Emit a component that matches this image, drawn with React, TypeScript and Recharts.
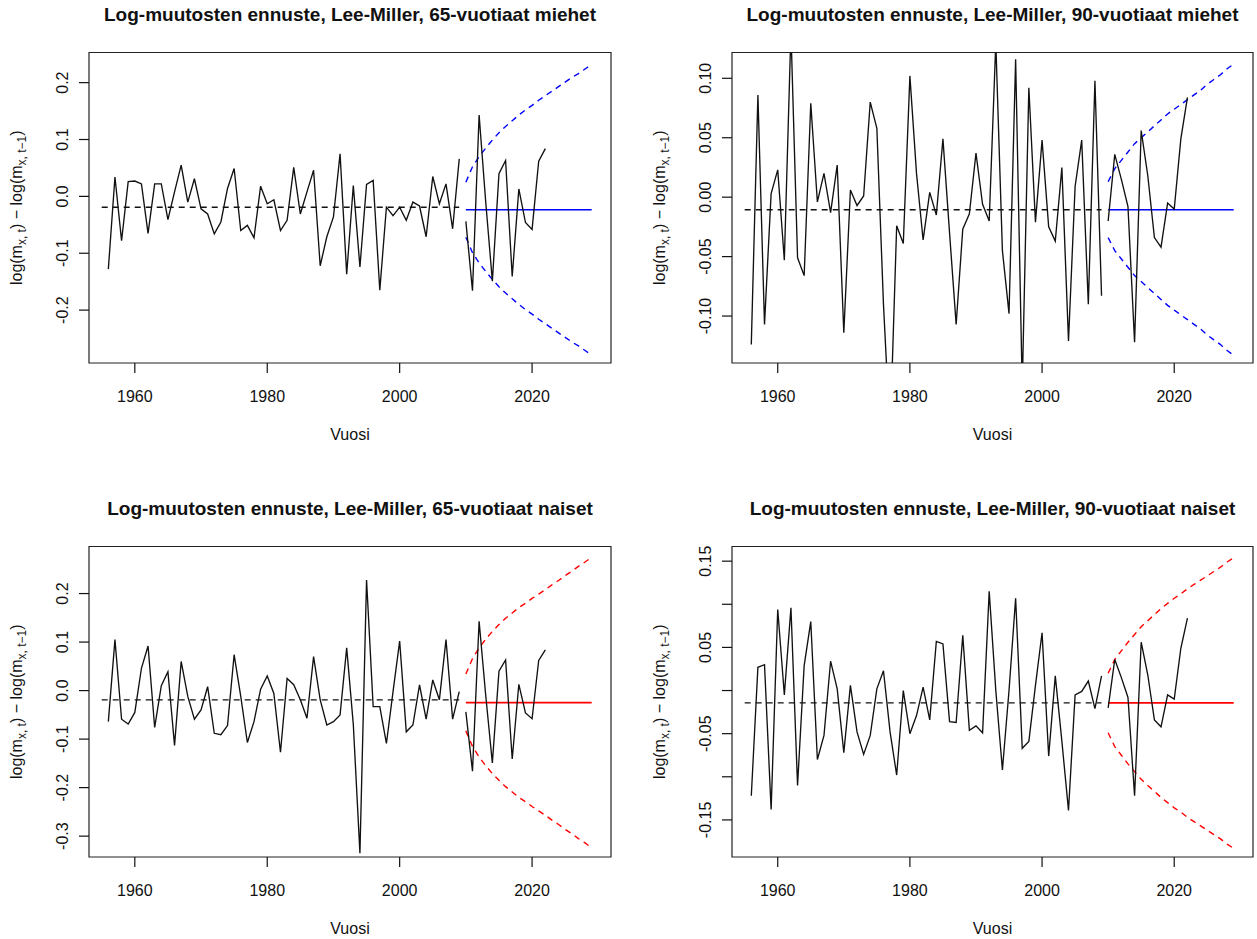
import { LineChart, Line, XAxis, YAxis, ReferenceArea } from 'recharts';

const FONT = '"Liberation Sans", Arial, Helvetica, sans-serif';

const titles = [
  'Log-muutosten ennuste, Lee-Miller, 65-vuotiaat miehet',
  'Log-muutosten ennuste, Lee-Miller, 90-vuotiaat miehet',
  'Log-muutosten ennuste, Lee-Miller, 65-vuotiaat naiset',
  'Log-muutosten ennuste, Lee-Miller, 90-vuotiaat naiset',
];
const xLabel = 'Vuosi';
const xTicks = [1960, 1980, 2000, 2020];

// years covered by each series
const meanStart = 1955;
const histStart = 1956;
const histEnd = 2009;
const recentStart = 2010;
const fcEnd = 2029;

// observed log changes 1956-2009
const hist65m = [
  -0.128, 0.034, -0.078, 0.026, 0.027, 0.022, -0.065, 0.022, 0.022, -0.041,
  0.008, 0.055, -0.010, 0.031, -0.022, -0.031, -0.066, -0.045, 0.014, 0.049,
  -0.060, -0.051, -0.073, 0.018, -0.013, -0.006, -0.060, -0.042, 0.051, -0.031,
  0.008, 0.046, -0.122, -0.071, -0.036, 0.075, -0.137, 0.019, -0.124, 0.021,
  0.028, -0.165, -0.019, -0.034, -0.019, -0.042, -0.010, -0.017, -0.071, 0.035,
  -0.013, 0.022, -0.057, 0.066,
];
const hist90m = [
  -0.124, 0.086, -0.107, 0.003, 0.023, -0.053, 0.14, -0.051, -0.066, 0.079,
  -0.004, 0.020, -0.013, 0.027, -0.114, 0.006, -0.007, 0.001, 0.080, 0.058,
  -0.090, -0.200, -0.024, -0.039, 0.102, 0.020, -0.036, 0.004, -0.015, 0.049,
  -0.030, -0.107, -0.027, -0.014, 0.037, -0.006, -0.020, 0.130, -0.045, -0.098,
  0.116, -0.160, 0.092, -0.021, 0.048, -0.025, -0.037, 0.025, -0.121, 0.009,
  0.048, -0.090, 0.098, -0.083,
];
const hist65f = [
  -0.064, 0.105, -0.059, -0.069, -0.045, 0.046, 0.092, -0.076, 0.010, 0.039,
  -0.113, 0.060, -0.012, -0.059, -0.040, 0.008, -0.088, -0.091, -0.072, 0.074,
  -0.012, -0.107, -0.064, 0.003, 0.030, -0.006, -0.127, 0.025, 0.012, -0.019,
  -0.057, 0.070, -0.019, -0.071, -0.064, -0.050, 0.088, -0.070, -0.335, 0.228,
  -0.033, -0.033, -0.109, -0.002, 0.102, -0.085, -0.071, 0.012, -0.059, 0.022,
  -0.019, 0.105, -0.059, -0.002,
];
const hist90f = [
  -0.122, 0.027, 0.030, -0.138, 0.094, -0.005, 0.096, -0.110, 0.029, 0.080,
  -0.080, -0.052, 0.034, 0.002, -0.072, 0.006, -0.048, -0.074, -0.052, 0.002,
  0.023, -0.048, -0.098, 0.000, -0.050, -0.029, 0.004, -0.034, 0.057, 0.054,
  -0.036, -0.037, 0.064, -0.046, -0.041, -0.049, 0.115, 0.000, -0.092, 0.000,
  0.107, -0.067, -0.059, 0.006, 0.067, -0.076, 0.017, -0.059, -0.139, -0.005,
  -0.001, 0.011, -0.021, 0.017,
];

// observed 2010-2022 (same series drawn in both panels of an age)
const recent65 = [-0.044, -0.166, 0.143, -0.010, -0.149, 0.040, 0.063, -0.141, 0.013, -0.046, -0.058, 0.062, 0.084];
const recent90 = [-0.020, 0.036, 0.015, -0.008, -0.122, 0.056, 0.018, -0.034, -0.042, -0.005, -0.010, 0.049, 0.084];

// means
const mean65m = -0.019;
const fc65m = -0.0235;
const mean90m = -0.0106;
const fc90m = -0.0106;
const mean65f = -0.0192;
const fc65f = -0.0247;
const mean90f = -0.0143;
const fc90f = -0.0143;

// prediction bounds 2010-2029
const upper65m = [0.025, 0.052, 0.070, 0.085, 0.099, 0.112, 0.123, 0.133, 0.143, 0.152, 0.160, 0.169, 0.177, 0.185, 0.193, 0.201, 0.209, 0.216, 0.224, 0.232];
const lower65m = [-0.072, -0.099, -0.117, -0.132, -0.146, -0.159, -0.170, -0.180, -0.190, -0.199, -0.207, -0.216, -0.224, -0.232, -0.240, -0.248, -0.256, -0.263, -0.271, -0.279];
const upper90m = [0.013, 0.024, 0.031, 0.038, 0.045, 0.050, 0.055, 0.060, 0.065, 0.070, 0.074, 0.078, 0.082, 0.086, 0.090, 0.095, 0.099, 0.103, 0.108, 0.112];
const lower90m = [-0.034, -0.045, -0.052, -0.059, -0.066, -0.071, -0.076, -0.081, -0.086, -0.091, -0.095, -0.099, -0.103, -0.107, -0.111, -0.116, -0.120, -0.124, -0.129, -0.133];
const upper65f = [0.034, 0.066, 0.088, 0.106, 0.122, 0.136, 0.149, 0.160, 0.171, 0.180, 0.190, 0.199, 0.208, 0.218, 0.227, 0.237, 0.246, 0.256, 0.265, 0.275];
const lower65f = [-0.083, -0.115, -0.137, -0.155, -0.171, -0.185, -0.198, -0.209, -0.220, -0.229, -0.239, -0.248, -0.257, -0.267, -0.276, -0.286, -0.295, -0.305, -0.314, -0.324];
const upper90f = [0.020, 0.036, 0.046, 0.056, 0.065, 0.074, 0.081, 0.088, 0.095, 0.101, 0.107, 0.112, 0.118, 0.123, 0.128, 0.133, 0.138, 0.143, 0.149, 0.154];
const lower90f = [-0.049, -0.065, -0.075, -0.085, -0.094, -0.103, -0.110, -0.117, -0.124, -0.130, -0.136, -0.141, -0.147, -0.152, -0.157, -0.162, -0.167, -0.172, -0.178, -0.183];

// y axes
const yTicks65m = [-0.2, -0.1, 0, 0.1, 0.2];
const yLabels65m = ['-0.2', '-0.1', '0.0', '0.1', '0.2'];
const yTicks90m = [-0.1, -0.05, 0, 0.05, 0.1];
const yLabels90m = ['-0.10', '-0.05', '0.00', '0.05', '0.10'];
const yTicks65f = [-0.3, -0.2, -0.1, 0, 0.1, 0.2];
const yLabels65f = ['-0.3', '-0.2', '-0.1', '0.0', '0.1', '0.2'];
const yTicks90f = [-0.15, -0.1, -0.05, 0, 0.05, 0.1, 0.15];
const yLabels90f = ['-0.15', '', '-0.05', '', '0.05', '', '0.15'];

const X_DOMAIN = [1953.08, 2031.92];
const PLOT_LEFT = 89;
const PLOT_TOP = 52.5;
const PLOT_H = 310.5;
const CHART_H = 470;

function buildRows(hist: number[], mean: number, recent: number[], fc: number, upper: number[], lower: number[]) {
  const rows: any[] = [];
  for (let y = meanStart; y <= fcEnd; y++) {
    const r: any = { year: y };
    if (y <= histEnd) r.mean = mean;
    if (y >= histStart && y <= histEnd) r.hist = hist[y - histStart];
    if (y >= recentStart && y - recentStart < recent.length) r.recent = recent[y - recentStart];
    if (y >= recentStart) {
      r.fc = fc;
      r.hi = upper[y - recentStart];
      r.lo = lower[y - recentStart];
    }
    rows.push(r);
  }
  return rows;
}

type PanelProps = {
  left: number;
  top: number;
  width: number;
  plotW: number;
  title: string;
  color: string;
  rows: any[];
  yDomain: number[];
  yTicks: number[];
  yLabels: string[];
};

function Panel(p: PanelProps) {
  const ink = '#111';
  const cx = PLOT_LEFT + p.plotW / 2;
  const cy = PLOT_TOP + PLOT_H / 2;
  return (
    <div style={{ position: 'absolute', left: p.left, top: p.top, width: p.width, height: CHART_H }}>
      <LineChart
        width={p.width}
        height={CHART_H}
        data={p.rows}
        margin={{ top: PLOT_TOP, right: p.width - PLOT_LEFT - p.plotW, bottom: 0, left: 0 }}
      >
        <XAxis
          type="number"
          dataKey="year"
          domain={X_DOMAIN}
          ticks={xTicks}
          interval={0}
          allowDataOverflow
          axisLine={false}
          tickSize={10}
          tickMargin={0}
          tickLine={{ stroke: ink, strokeWidth: 1.2 }}
          height={CHART_H - PLOT_TOP - PLOT_H}
          tick={(t: any) => (
            <text x={t.x} y={t.y + 28.7} textAnchor="middle" fontFamily={FONT} fontSize={16} fill={ink}>
              {t.payload.value}
            </text>
          )}
        />
        <YAxis
          type="number"
          domain={p.yDomain}
          ticks={p.yTicks}
          interval={0}
          allowDataOverflow
          axisLine={false}
          tickSize={10}
          tickMargin={0}
          width={PLOT_LEFT}
          tickLine={{ stroke: ink, strokeWidth: 1.2 }}
          tick={(t: any) => (
            <text
              x={t.x - 11}
              y={t.y}
              transform={`rotate(-90 ${t.x - 11} ${t.y})`}
              textAnchor="middle"
              fontFamily={FONT}
              fontSize={16}
              fill={ink}
            >
              {p.yLabels[p.yTicks.indexOf(t.payload.value)]}
            </text>
          )}
        />
        <Line dataKey="hi" stroke={p.color} strokeWidth={1.4} strokeDasharray="6 5" dot={false} isAnimationActive={false} />
        <Line dataKey="lo" stroke={p.color} strokeWidth={1.4} strokeDasharray="6 5" dot={false} isAnimationActive={false} />
        <Line dataKey="fc" stroke={p.color} strokeWidth={1.6} dot={false} isAnimationActive={false} />
        <Line dataKey="mean" stroke={ink} strokeWidth={1.4} strokeDasharray="6 5" dot={false} isAnimationActive={false} />
        <Line dataKey="hist" stroke={ink} strokeWidth={1.35} dot={false} isAnimationActive={false} />
        <Line dataKey="recent" stroke={ink} strokeWidth={1.35} dot={false} isAnimationActive={false} />
        <ReferenceArea
          x1={X_DOMAIN[0]}
          x2={X_DOMAIN[1]}
          y1={p.yDomain[0]}
          y2={p.yDomain[1]}
          fill="none"
          stroke="#222"
          strokeWidth={1.2}
          ifOverflow="visible"
        />
      </LineChart>
      <svg
        width={p.width}
        height={CHART_H}
        style={{ position: 'absolute', left: 0, top: 0, pointerEvents: 'none' }}
        fontFamily={FONT}
        fill={ink}
      >
        <text x={cx} y={20.7} textAnchor="middle" fontWeight="bold" fontSize={19}>
          {p.title}
        </text>
        <text x={cx} y={440} textAnchor="middle" fontSize={16}>
          {xLabel}
        </text>
        <text x={22} y={cy} transform={`rotate(-90 22 ${cy})`} textAnchor="middle" fontSize={16}>
          log(m<tspan dy={4} fontSize={12}>x, t</tspan>
          <tspan dy={-4}>) − log(m</tspan>
          <tspan dy={4} fontSize={12}>x, t−1</tspan>
          <tspan dy={-4}>)</tspan>
        </text>
      </svg>
    </div>
  );
}

export default function App() {
  const rows65m = buildRows(hist65m, mean65m, recent65, fc65m, upper65m, lower65m);
  const rows90m = buildRows(hist90m, mean90m, recent90, fc90m, upper90m, lower90m);
  const rows65f = buildRows(hist65f, mean65f, recent65, fc65f, upper65f, lower65f);
  const rows90f = buildRows(hist90f, mean90f, recent90, fc90f, upper90f, lower90f);

  return (
    <div style={{ position: 'absolute', left: 0, top: 0, width: 1257, height: 939, background: '#fff', overflow: 'hidden' }}>
      <Panel left={0} top={0} width={628} plotW={522} title={titles[0]} color="#0000ff"
        rows={rows65m} yDomain={[-0.293, 0.253]} yTicks={yTicks65m} yLabels={yLabels65m} />
      <Panel left={643} top={0} width={614} plotW={521} title={titles[1]} color="#0000ff"
        rows={rows90m} yDomain={[-0.1395, 0.1217]} yTicks={yTicks90m} yLabels={yLabels90m} />
      <Panel left={0} top={494} width={628} plotW={522} title={titles[2]} color="#ff0000"
        rows={rows65f} yDomain={[-0.343, 0.297]} yTicks={yTicks65f} yLabels={yLabels65f} />
      <Panel left={643} top={494} width={614} plotW={521} title={titles[3]} color="#ff0000"
        rows={rows90f} yDomain={[-0.193, 0.167]} yTicks={yTicks90f} yLabels={yLabels90f} />
    </div>
  );
}
